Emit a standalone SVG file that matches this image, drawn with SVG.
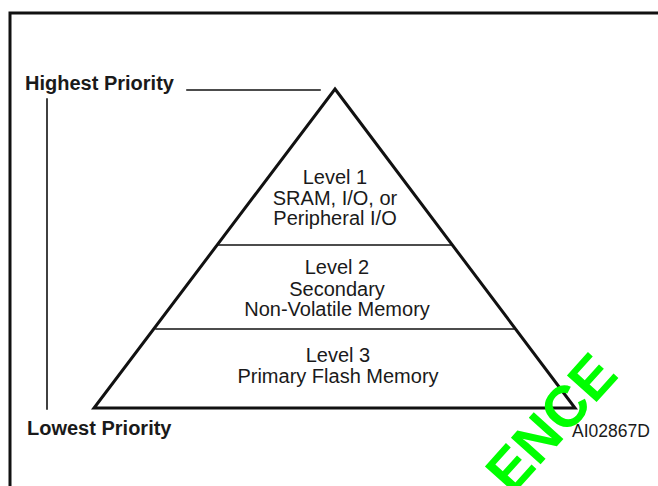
<svg xmlns="http://www.w3.org/2000/svg" width="658" height="486" viewBox="0 0 658 486">
  <style>
    .lbl { font-family: "Liberation Sans", Arial, sans-serif; font-size: 20px; fill: #1a1a1a; }
    .lvl { text-anchor: middle; }
    .side { font-weight: bold; }
    .code { font-family: "Liberation Sans", Arial, sans-serif; font-size: 17.5px; fill: #1a1a1a; }
    .edge { stroke: #111; fill: none; stroke-linecap: square; }
    .mark { font-family: "Liberation Sans", Arial, sans-serif; font-weight: bold; font-size: 58px; fill: #00ff00; }
  </style>
  <rect width="658" height="486" fill="#ffffff"/>

  <!-- outer frame (open at right and bottom) -->
  <g id="frame">
    <polyline class="edge" points="10,486 10,13 660,13" stroke-width="3"/>
  </g>

  <!-- priority scale on the left -->
  <g id="scale">
    <text class="lbl side" x="25" y="90">Highest Priority</text>
    <text class="lbl side" x="27" y="435">Lowest Priority</text>
    <line class="edge" x1="47" y1="99" x2="47" y2="409" stroke-width="1.6"/>
  </g>

  <g id="connectors">
    <line class="edge" x1="187" y1="90" x2="320" y2="90" stroke-width="1.6"/>
  </g>

  <!-- pyramid outline and level dividers -->
  <g id="pyramid">
    <polygon points="335,89 575,408 94,408" fill="none" stroke="#111" stroke-width="3" stroke-linejoin="miter"/>
    <line class="edge" x1="219" y1="245" x2="451" y2="245" stroke-width="1.6" stroke-linecap="butt"/>
    <line class="edge" x1="156" y1="329" x2="514" y2="329" stroke-width="1.6" stroke-linecap="butt"/>
  </g>

  <g id="level1">
    <text class="lbl lvl" x="335" y="184">Level 1</text>
    <text class="lbl lvl" x="335" y="205">SRAM, I/O, or</text>
    <text class="lbl lvl" x="335" y="225">Peripheral I/O</text>
  </g>

  <g id="level2">
    <text class="lbl lvl" x="337" y="274">Level 2</text>
    <text class="lbl lvl" x="337" y="296">Secondary</text>
    <text class="lbl lvl" x="337" y="316">Non-Volatile Memory</text>
  </g>

  <g id="level3">
    <text class="lbl lvl" x="338" y="362">Level 3</text>
    <text class="lbl lvl" x="338" y="383">Primary Flash Memory</text>
  </g>

  <g id="figure-code">
    <text class="code" x="572" y="437">AI02867D</text>
  </g>

  <!-- diagonal green stamp across the lower right corner -->
  <g id="stamp">
    <text class="mark" transform="translate(512,496) rotate(-48)">ENCE</text>
  </g>
</svg>
